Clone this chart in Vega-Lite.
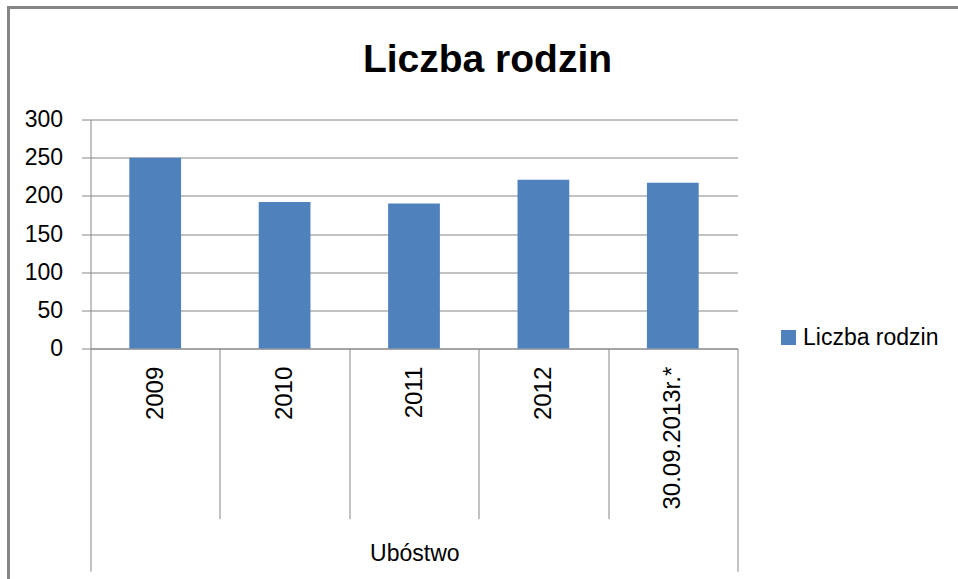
{
  "$schema": "https://vega.github.io/schema/vega-lite/v6.json",
  "autosize": {"type": "none"},
  "padding": {"left": 8.5, "top": 7.5, "right": -8.5, "bottom": -8.5},
  "width": 958,
  "height": 580,
  "background": "white",
  "config": {
    "view": {"stroke": "#868686", "strokeWidth": 3},
    "font": "Liberation Sans"
  },
  "title": {
    "text": "Liczba rodzin",
    "font": "Liberation Sans",
    "fontSize": 39,
    "fontWeight": "bold",
    "color": "black",
    "anchor": "middle",
    "frame": "group",
    "baseline": "alphabetic",
    "offset": -103.5
  },
  "data": {
    "values": [
      {"rok": "2009", "liczba": 250, "seria": "Liczba rodzin"},
      {"rok": "2010", "liczba": 192, "seria": "Liczba rodzin"},
      {"rok": "2011", "liczba": 190, "seria": "Liczba rodzin"},
      {"rok": "2012", "liczba": 221, "seria": "Liczba rodzin"},
      {"rok": "30.09.2013r.*", "liczba": 217, "seria": "Liczba rodzin"}
    ]
  },
  "mark": {"type": "bar", "width": {"band": 0.4}},
  "encoding": {
    "x": {
      "field": "rok",
      "type": "nominal",
      "sort": null,
      "scale": {"range": [82, 729], "paddingInner": 0, "paddingOuter": 0},
      "axis": {
        "orient": "bottom",
        "offset": -239,
        "title": "Ubóstwo",
        "titleX": 405.8,
        "titleY": 212.4,
        "titleAlign": "center",
        "titleBaseline": "alphabetic",
        "titleFont": "Liberation Sans",
        "titleFontSize": 23,
        "titleFontWeight": "normal",
        "titleColor": "black",
        "tickBand": "extent",
        "tickSize": {"condition": {"test": "datum.index === -1 || datum.index === 1", "value": 222.7}, "value": 170.2},
        "tickColor": "#868686",
        "tickWidth": 1,
        "domainColor": "#868686",
        "domainWidth": 1,
        "grid": false,
        "labelAngle": 270,
        "labelAlign": "right",
        "labelBaseline": "middle",
        "labelPadding": {"condition": {"test": "datum.index === 1", "value": -205}, "value": -152.5},
        "labelFont": "Liberation Sans",
        "labelFontSize": 24,
        "labelColor": "black"
      }
    },
    "y": {
      "field": "liczba",
      "type": "quantitative",
      "scale": {"domain": [0, 300], "range": [341, 112], "nice": false},
      "axis": {
        "orient": "left",
        "offset": -82,
        "values": [0, 50, 100, 150, 200, 250, 300],
        "title": null,
        "grid": true,
        "gridColor": "#868686",
        "gridWidth": 1,
        "domainColor": "#868686",
        "domainWidth": 1,
        "tickColor": "#868686",
        "tickSize": 9,
        "tickWidth": 1,
        "labelPadding": 19,
        "labelFont": "Liberation Sans",
        "labelFontSize": 23,
        "labelColor": "black"
      }
    },
    "color": {
      "field": "seria",
      "type": "nominal",
      "scale": {"range": ["#4F81BD"]},
      "legend": {
        "orient": "none",
        "legendX": 768.5,
        "legendY": 318.5,
        "title": null,
        "symbolType": "square",
        "symbolSize": 225,
        "symbolStrokeWidth": 0,
        "symbolOpacity": 1,
        "labelFont": "Liberation Sans",
        "labelFontSize": 23,
        "labelColor": "black",
        "labelOffset": 3,
        "padding": 0
      }
    }
  }
}
